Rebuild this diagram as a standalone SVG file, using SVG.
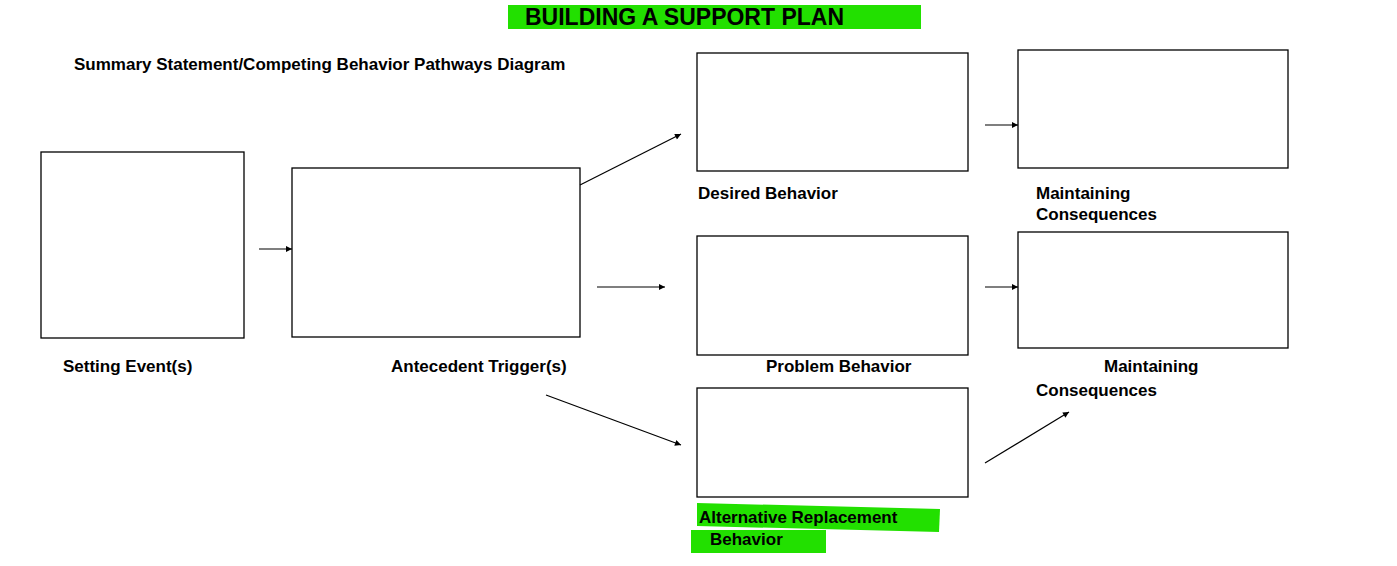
<svg xmlns="http://www.w3.org/2000/svg" width="1397" height="566" viewBox="0 0 1397 566">
<style>
.b{fill:#fff;stroke:#000;stroke-width:1.3}
.t{font-family:"Liberation Sans",Arial,sans-serif;font-weight:bold;font-size:17px;fill:#000}
.c{stroke:#000;stroke-width:1.2;fill:none;marker-end:url(#a)}
.h{fill:#22e000}
</style>
<defs><marker id="a" viewBox="0 0 10 10" refX="10" refY="5" markerWidth="8" markerHeight="6" orient="auto" markerUnits="userSpaceOnUse"><path d="M0,0L10,5L0,10z" fill="#000"/></marker></defs>
<rect class="h" x="508" y="5" width="413" height="24"/>
<text class="t" x="525" y="25" font-size="23" style="font-size:23px">BUILDING A SUPPORT PLAN</text>
<text class="t" x="74" y="70">Summary Statement/Competing Behavior Pathways Diagram</text>
<g id="setting"><rect class="b" x="41" y="152" width="203" height="186"/><text class="t" x="63" y="372">Setting Event(s)</text></g>
<g id="antecedent"><rect class="b" x="292" y="168" width="288" height="169"/><text class="t" x="391" y="372">Antecedent Trigger(s)</text></g>
<g id="desired"><rect class="b" x="697" y="53" width="271" height="118"/><text class="t" x="698" y="199">Desired Behavior</text></g>
<g id="mc1"><rect class="b" x="1018" y="50" width="270" height="118"/><text class="t" x="1036" y="199">Maintaining</text><text class="t" x="1036" y="220">Consequences</text></g>
<g id="problem"><rect class="b" x="697" y="236" width="271" height="119"/><text class="t" x="766" y="372">Problem Behavior</text></g>
<g id="mc2"><rect class="b" x="1018" y="232" width="270" height="116"/><text class="t" x="1104" y="372">Maintaining</text><text class="t" x="1036" y="396">Consequences</text></g>
<g id="alt"><rect class="b" x="697" y="388" width="271" height="109"/>
<polygon class="h" points="697,503 940,509 939,532 697,526"/><rect class="h" x="691" y="530" width="135" height="23"/>
<text class="t" x="699" y="523">Alternative Replacement</text><text class="t" x="710" y="545">Behavior</text></g>
<g id="connectors">
<line class="c" x1="259" y1="249" x2="292" y2="249"/>
<line class="c" x1="580" y1="185" x2="681" y2="134"/>
<line class="c" x1="597" y1="287" x2="665" y2="287"/>
<line class="c" x1="546" y1="395" x2="681" y2="445"/>
<line class="c" x1="985" y1="125" x2="1018" y2="125"/>
<line class="c" x1="985" y1="287" x2="1018" y2="287"/>
<line class="c" x1="985" y1="463" x2="1069" y2="412"/>
</g>
</svg>
